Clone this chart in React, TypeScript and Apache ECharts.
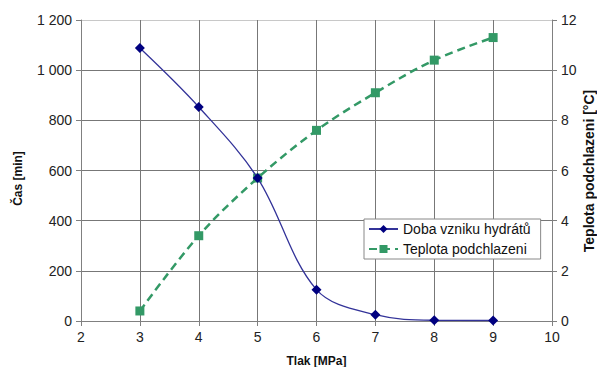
import React, { useEffect, useRef } from "react";
import * as echarts from "echarts";

const pressure = [3, 4, 5, 6, 7, 8, 9];
const formationTime = [1088, 853, 570, 125, 25, 3, 2];
const subcooling = [0.4, 3.4, 5.7, 7.6, 9.1, 10.4, 11.3];
const seriesNames = ["Doba vzniku hydrátů", "Teplota podchlazeni"];
const rightAxisTitle = "Teplota podchlazeni [°C]";

const FONT = "Liberation Sans, Arial, sans-serif";

export default function App() {
  const ref = useRef<HTMLDivElement>(null);
  useEffect(() => {
    if (!ref.current) return;
    const chart = echarts.init(ref.current, null, { renderer: "svg" });
    const gridColors = ["#777", "#777", "#777", "#777", "#777", "#777", "#c8c8c8"];
    chart.setOption({
      animation: false,
      backgroundColor: "#fff",
      textStyle: { fontFamily: FONT },
      grid: { left: 81, right: 45, top: 20, bottom: 46, containLabel: false, outerBoundsMode: "none" },
      graphic: [
        {
          type: "text",
          x: 589,
          y: 171,
          rotation: Math.PI / 2,
          style: {
            text: rightAxisTitle,
            fontFamily: FONT,
            fontSize: 14,
            fontWeight: "bold",
            fill: "#111",
            align: "center",
            verticalAlign: "middle",
          },
        },
      ],
      legend: {
        orient: "vertical",
        left: 364,
        top: 219,
        backgroundColor: "#fff",
        borderColor: "#888",
        borderWidth: 1,
        borderRadius: 0,
        padding: [3, 10, 3, 4],
        itemGap: 6,
        itemWidth: 29,
        itemHeight: 10,
        textStyle: { fontFamily: FONT, fontSize: 14, color: "#111" },
        data: seriesNames,
      },
      xAxis: {
        type: "value",
        min: 2,
        max: 10,
        interval: 1,
        name: "Tlak [MPa]",
        nameLocation: "middle",
        nameGap: 34,
        nameTextStyle: { fontFamily: FONT, fontSize: 12, fontWeight: "bold", color: "#111" },
        axisLine: { show: true, onZero: false, lineStyle: { color: "#808080", width: 1 } },
        axisTick: { show: true, length: 5, lineStyle: { color: "#808080" } },
        axisLabel: { fontFamily: FONT, fontSize: 14, color: "#222", margin: 9 },
        splitLine: { show: true, lineStyle: { color: "#777", width: 1 } },
      },
      yAxis: [
        {
          type: "value",
          min: 0,
          max: 1200,
          interval: 200,
          name: "Čas [min]",
          nameLocation: "middle",
          nameGap: 57,
          nameTextStyle: {
            fontFamily: FONT,
            fontSize: 12,
            fontWeight: "bold",
            color: "#111",
            padding: [0, 16, 0, 0],
          },
          axisLine: { show: true, lineStyle: { color: "#808080", width: 1 } },
          axisTick: { show: true, length: 5, lineStyle: { color: "#808080" } },
          axisLabel: {
            fontFamily: FONT,
            fontSize: 14,
            color: "#222",
            margin: 9,
            formatter: (v: number) => String(v).replace(/\B(?=(\d{3})+(?!\d))/g, " "),
          },
          splitLine: { show: true, lineStyle: { color: gridColors, width: 1 } },
        },
        {
          type: "value",
          min: 0,
          max: 12,
          interval: 2,
          position: "right",
          axisLine: { show: true, lineStyle: { color: "#808080", width: 1 } },
          axisTick: { show: true, length: 5, lineStyle: { color: "#808080" } },
          axisLabel: { fontFamily: FONT, fontSize: 14, color: "#222", margin: 9 },
          splitLine: { show: false },
        },
      ],
      series: [
        {
          name: seriesNames[0],
          type: "line",
          yAxisIndex: 0,
          smooth: 0.35,
          data: pressure.map((p, i) => [p, formationTime[i]]),
          symbol: "diamond",
          symbolSize: 10,
          itemStyle: { color: "#000080" },
          lineStyle: { color: "#333399", width: 1.3 },
          z: 3,
        },
        {
          name: seriesNames[1],
          type: "line",
          yAxisIndex: 1,
          smooth: 0.35,
          data: pressure.map((p, i) => [p, subcooling[i]]),
          symbol: "rect",
          symbolSize: 9,
          itemStyle: { color: "#339966" },
          lineStyle: { color: "#339966", width: 2.5, type: [8, 5] },
          z: 2,
        },
      ],
    });
    return () => chart.dispose();
  }, []);
  return <div ref={ref} style={{ width: 597, height: 367, position: "absolute", left: 0, top: 0 }} />;
}
